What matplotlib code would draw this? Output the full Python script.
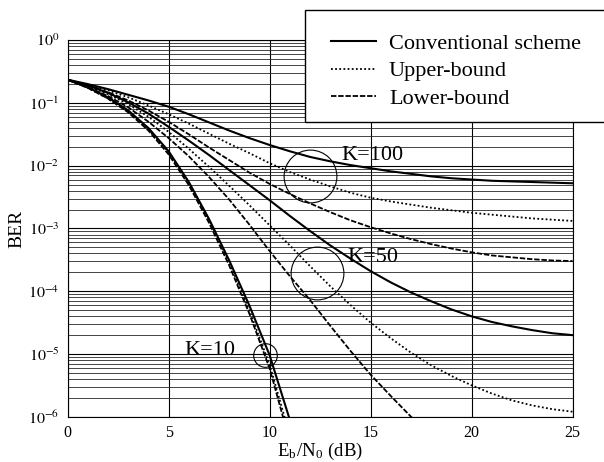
import numpy as np
import matplotlib
matplotlib.use("Agg")
import matplotlib.pyplot as plt
from matplotlib.patches import Rectangle
from matplotlib.lines import Line2D

plt.rcParams['font.family'] = ['Liberation Serif', 'DejaVu Serif']
plt.rcParams['mathtext.fontset'] = 'stix'

# Eb/N0 (dB)
snr = np.arange(0, 26)

# log10(BER)
k100_conv = [-0.63, -0.70, -0.78, -0.87, -0.96, -1.06, -1.18, -1.31, -1.44, -1.56, -1.67,
             -1.77, -1.86, -1.93, -1.99, -2.04, -2.09, -2.13, -2.17, -2.20, -2.22,
             -2.24, -2.25, -2.26, -2.27, -2.28]
k100_upper = [-0.63, -0.71, -0.80, -0.91, -1.04, -1.18, -1.33, -1.49, -1.65, -1.80, -1.96,
              -2.10, -2.22, -2.33, -2.43, -2.51, -2.57, -2.62, -2.67, -2.71, -2.75,
              -2.78, -2.81, -2.84, -2.86, -2.88]
k100_lower = [-0.63, -0.72, -0.83, -0.96, -1.12, -1.30, -1.50, -1.71, -1.91, -2.11, -2.29,
              -2.45, -2.60, -2.74, -2.87, -2.98, -3.08, -3.17, -3.25, -3.32, -3.38,
              -3.43, -3.46, -3.49, -3.51, -3.52]
k50_conv = [-0.63, -0.72, -0.84, -0.99, -1.17, -1.38, -1.60, -1.83, -2.07, -2.31, -2.55,
            -2.80, -3.04, -3.27, -3.48, -3.68, -3.86, -4.02, -4.16, -4.29, -4.40,
            -4.49, -4.56, -4.62, -4.67, -4.70]
k50_upper = [-0.63, -0.73, -0.86, -1.02, -1.22, -1.46, -1.73, -2.02, -2.32, -2.63, -2.95,
             -3.27, -3.60, -3.92, -4.22, -4.50, -4.75, -4.98, -5.18, -5.35, -5.50,
             -5.63, -5.74, -5.82, -5.88, -5.92]
k50_lower = [-0.63, -0.75, -0.89, -1.07, -1.30, -1.56, -1.85, -2.18, -2.54, -2.94, -3.36,
             -3.76, -4.14, -4.55, -4.95, -5.33, -5.67, -6.00, -6.35]
k10_conv = [-0.63, -0.75, -0.91, -1.12, -1.40, -1.77, -2.26, -2.85, -3.51, -4.23, -5.02,
            -6.05, -7.2]
k10_upper = [-0.63, -0.76, -0.93, -1.14, -1.42, -1.79, -2.27, -2.86, -3.54, -4.31, -5.17,
             -6.3, -7.5]
k10_lower = [-0.63, -0.76, -0.93, -1.15, -1.44, -1.82, -2.31, -2.91, -3.59, -4.36, -5.23,
             -6.4, -7.6]

fig = plt.figure(figsize=(6.04, 4.62), dpi=100)
ax = fig.add_axes([0.112, 0.098, 0.836, 0.815])

conv_style = dict(color='k', lw=1.5, ls='-')
upper_style = dict(color='k', lw=1.3, ls=(0, (1, 1.3)))
lower_style = dict(color='k', lw=1.3, ls=(0, (3, 1)))

for c, u, l in [(k100_conv, k100_upper, k100_lower),
                (k50_conv, k50_upper, k50_lower),
                (k10_conv, k10_upper, k10_lower)]:
    ax.plot(snr[:len(c)], 10.0 ** np.array(c), **conv_style)
    ax.plot(snr[:len(u)], 10.0 ** np.array(u), **upper_style)
    ax.plot(snr[:len(l)], 10.0 ** np.array(l), **lower_style)

ax.set_yscale('log')
ax.set_xlim(0, 25)
ax.set_ylim(1e-6, 1)
ax.set_xticks([0, 5, 10, 15, 20, 25])
ax.set_yticks([10.0 ** e for e in range(-6, 1)])
ax.set_yticklabels([r'$10^{%d}$' % e for e in range(-6, 1)])
ax.grid(True, which='major', axis='both', color='k', lw=0.8)
ax.grid(True, which='minor', axis='y', color='0.15', lw=0.6)
ax.tick_params(which='both', direction='in', length=0, labelsize=11.5, pad=6)
for s in ax.spines.values():
    s.set_linewidth(0.8)

ax.set_ylabel('BER', fontsize=14, labelpad=2)
ax.set_xlabel(r'E$_\mathregular{b}$/N$_\mathregular{0}$ (dB)', fontsize=13.5, labelpad=0)

# circles and labels
circle_x = [12.0, 12.35, 9.79]
circle_y = [10 ** -2.17, 10 ** -3.71, 10 ** -5.02]
circle_size = [38, 38, 17]
for cx, cy, ms in zip(circle_x, circle_y, circle_size):
    ax.plot(cx, cy, marker='o', ms=ms, mfc='none', mec='k', mew=0.8)

label_text = ['K=100', 'K=50', 'K=10']
label_x = [13.55, 13.85, 5.8]
label_y = [10 ** -1.91, 10 ** -3.54, 10 ** -5.02]
for t, lx, ly in zip(label_text, label_x, label_y):
    ax.text(lx, ly, t, fontsize=16, ha='left', va='baseline')

# legend box
fig.patches.append(Rectangle((305 / 604, 1 - 122 / 462), 0.6, 112 / 462,
                             transform=fig.transFigure, facecolor='white',
                             edgecolor='k', lw=1.0, zorder=3))
handles = [Line2D([], [], **conv_style), Line2D([], [], **upper_style),
           Line2D([], [], **lower_style)]
fig.legend(handles, ['Conventional scheme', 'Upper-bound', 'Lower-bound'],
           loc='upper left', bbox_to_anchor=(320 / 604, 1 - 22 / 462),
           frameon=False, fontsize=16, handlelength=2.0, handletextpad=0.6,
           labelspacing=0.32, borderpad=0.0)

fig.savefig('out.png', dpi=100)
